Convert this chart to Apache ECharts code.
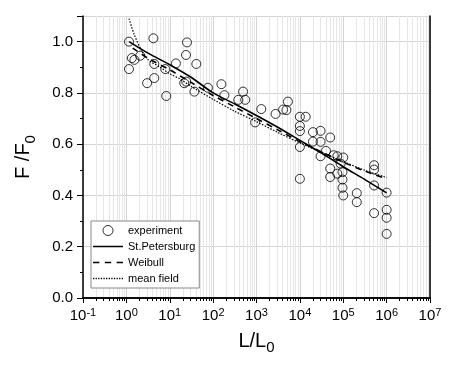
<!DOCTYPE html>
<html>
<head>
<meta charset="utf-8">
<script src="https://cdn.jsdelivr.net/npm/echarts@6/dist/echarts.min.js"></script>
<style>
html, body { margin: 0; padding: 0; background: #fff; }
#chart { width: 450px; height: 366px; }
</style>
</head>
<body>
<div id="chart"></div>
<script>
// experiment points (L/L0, F/F0)
var expL = [1.15, 4.2, 1.34, 1.53, 2.08, 1.15, 4.4, 3.0, 4.4, 8.3, 7.9, 25, 23.7, 41, 13.9, 21.6, 24, 37, 76, 155, 182, 490, 380, 550, 930, 1290,
            2750, 4100, 4900, 5300, 10000, 13600, 10000, 10000, 10000, 10000, 20000, 30000, 50000, 20000, 30000, 40000, 30000, 60000, 73000, 100000,
            50000, 87000, 50000, 73000, 96000, 96000, 96000, 100000, 205000, 205000, 515000, 515000, 515000, 515000, 1e6, 1e6, 1e6, 1e6];
var expF = [1.0, 1.013, 0.936, 0.929, 0.945, 0.893, 0.913, 0.838, 0.858, 0.788, 0.893, 0.997, 0.948, 0.913, 0.915, 0.838, 0.844, 0.805, 0.82, 0.834, 0.791, 0.805, 0.773, 0.773, 0.685, 0.737,
            0.718, 0.735, 0.733, 0.766, 0.707, 0.707, 0.671, 0.651, 0.589, 0.465, 0.647, 0.652, 0.626, 0.61, 0.609, 0.574, 0.553, 0.557, 0.553, 0.548,
            0.505, 0.524, 0.472, 0.485, 0.491, 0.462, 0.43, 0.40, 0.409, 0.374, 0.518, 0.501, 0.439, 0.331, 0.411, 0.344, 0.313, 0.25];

// St.Petersburg curve
var spbL = [1.15, 3.16, 10, 31.6, 100, 316, 1000, 3160, 10000, 31600, 100000, 316000, 1e6];
var spbF = [1.0, 0.955, 0.91, 0.86, 0.80, 0.757, 0.712, 0.665, 0.615, 0.565, 0.512, 0.462, 0.41];

// Weibull curve
var weiL = [1.4, 3.16, 10, 31.6, 100, 316, 1000, 3160, 10000, 31600, 100000, 316000, 1e6];
var weiF = [0.975, 0.935, 0.89, 0.84, 0.79, 0.745, 0.70, 0.655, 0.61, 0.57, 0.53, 0.495, 0.465];

// mean field curve
var mfL = [1.15, 1.5, 2.2, 3.16, 6, 10, 17, 31.6, 100, 316, 1000, 3160, 10000, 31600, 100000, 316000, 1e6];
var mfF = [1.09, 1.03, 0.968, 0.93, 0.9, 0.875, 0.855, 0.825, 0.775, 0.728, 0.688, 0.645, 0.605, 0.568, 0.532, 0.498, 0.47];

var yTicks = [0.0, 0.2, 0.4, 0.6, 0.8, 1.0];

function pairs(a, b) {
    var out = [];
    for (var i = 0; i < a.length; i++) out.push([a[i], b[i]]);
    return out;
}

// legend line icon: a row of small bars, 30px wide
function dashIcon(dash, gap, h) {
    var p = 'path://', x = 0;
    while (x < 30) {
        var w = Math.min(dash, 30 - x);
        p += 'M' + x + ',0h' + w + 'v' + h + 'h-' + w + 'z';
        x += dash + gap;
    }
    return p;
}

var font = "'Liberation Sans', Arial, sans-serif";

var myChart = echarts.init(document.getElementById('chart'));
var option = {
    animation: false,
    backgroundColor: '#fff',
    textStyle: { fontFamily: font, color: '#000' },
    grid: { left: 83, right: 20, top: 16, bottom: 68, containLabel: false },
    legend: {
        orient: 'vertical',
        left: 91, top: 221,
        backgroundColor: '#fff',
        borderColor: '#888', borderWidth: 1,
        padding: [4, 4, 4, 2],
        itemGap: 5,
        itemWidth: 30, itemHeight: 10,
        symbolKeepAspect: true,
        textStyle: { fontSize: 11, color: '#000', fontFamily: font },
        data: [
            { name: 'experiment', icon: 'circle', itemStyle: { color: 'rgba(255,255,255,0)', borderColor: '#000', borderWidth: 1 } },
            { name: 'St.Petersburg', icon: dashIcon(30, 0, 1.5), itemStyle: { color: '#000', borderWidth: 0 } },
            { name: 'Weibull', icon: dashIcon(6, 5, 1.5), itemStyle: { color: '#000', borderWidth: 0 } },
            { name: 'mean field', icon: dashIcon(1.2, 1.3, 1.2), itemStyle: { color: '#000', borderWidth: 0 } }
        ]
    },
    xAxis: [{
        type: 'log', logBase: 10, min: 0.1, max: 1e7, interval: 1,
        position: 'bottom',
        name: '{a|L/L}{s|0}', nameLocation: 'middle', nameGap: 30,
        nameTextStyle: { rich: { a: { fontSize: 20, fontFamily: font }, s: { fontSize: 15, fontFamily: font, padding: [12, 0, 0, 0] } } },
        axisLine: { show: true, lineStyle: { color: '#000', width: 1.5 } },
        axisTick: { show: true, inside: false, length: 5, lineStyle: { color: '#000', width: 1 } },
        minorTick: { show: true, splitNumber: 9, length: 3, lineStyle: { color: '#000', width: 1 } },
        splitLine: { show: true, lineStyle: { color: '#d4d4d4', width: 1 } },
        minorSplitLine: { show: true, lineStyle: { color: '#e6e6e6', width: 1 } },
        axisLabel: {
            margin: 9,
            formatter: function (v) {
                var e = Math.round(Math.log(v) / Math.LN10);
                return '{b|10}{s|' + e + '}';
            },
            rich: {
                b: { fontSize: 15, color: '#000', fontFamily: font },
                s: { fontSize: 11, color: '#000', fontFamily: font, padding: [0, 0, 6, 0] }
            }
        }
    }, {
        type: 'log', logBase: 10, min: 0.1, max: 1e7, position: 'top',
        axisLine: { show: true, lineStyle: { color: '#000', width: 1.5 } },
        axisTick: { show: false }, axisLabel: { show: false }, splitLine: { show: false }
    }],
    yAxis: [{
        type: 'value', min: 0, max: 1.1, interval: 0.2,
        name: '{a|F /F}{s|0}', nameLocation: 'middle', nameGap: 45,
        nameTextStyle: { rich: { a: { fontSize: 20, fontFamily: font }, s: { fontSize: 15, fontFamily: font, padding: [14, 0, 0, 0] } } },
        axisLine: { show: true, lineStyle: { color: '#000', width: 1.5 } },
        axisTick: { show: true, inside: false, length: 6, lineStyle: { color: '#000', width: 1 } },
        minorTick: { show: true, splitNumber: 2, length: 3, lineStyle: { color: '#000', width: 1 } },
        splitLine: { show: true, lineStyle: { color: '#d4d4d4', width: 1 } },
        axisLabel: {
            margin: 10, fontSize: 15, color: '#000', showMaxLabel: false,
            formatter: function (v) { return yTicks.indexOf(Math.round(v * 10) / 10) >= 0 ? v.toFixed(1) : ''; }
        }
    }, {
        type: 'value', min: 0, max: 1.1, position: 'right',
        axisLine: { show: true, lineStyle: { color: '#000', width: 1.5 } },
        axisTick: { show: false }, axisLabel: { show: false }, splitLine: { show: false }
    }],
    series: [{
        name: 'experiment',
        type: 'scatter',
        data: pairs(expL, expF),
        symbol: 'circle', symbolSize: 9,
        itemStyle: { color: 'rgba(255,255,255,0)', borderColor: '#000', borderWidth: 1 },
        z: 5
    }, {
        name: 'St.Petersburg',
        type: 'line',
        data: pairs(spbL, spbF),
        symbol: 'none', smooth: 0.3,
        lineStyle: { color: '#000', width: 1.6, type: 'solid' },
        itemStyle: { color: '#000' }
    }, {
        name: 'Weibull',
        type: 'line',
        data: pairs(weiL, weiF),
        symbol: 'none', smooth: 0.3,
        lineStyle: { color: '#000', width: 1.6, type: [6, 5] },
        itemStyle: { color: '#000' }
    }, {
        name: 'mean field',
        type: 'line',
        data: pairs(mfL, mfF),
        symbol: 'none', smooth: 0.3,
        lineStyle: { color: '#000', width: 1.2, type: [1.5, 1.5] },
        itemStyle: { color: '#000' }
    }]
};
myChart.setOption(option);
window.addEventListener('resize', function () {
    myChart.resize();
});
</script>
</body>
</html>
